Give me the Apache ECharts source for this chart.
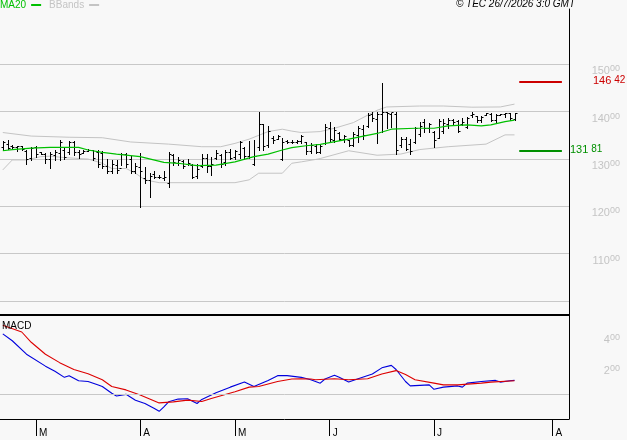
<!DOCTYPE html>
<html>
<head>
<meta charset="utf-8">
<script src="https://cdn.jsdelivr.net/npm/echarts@6/dist/echarts.min.js"></script>
<style>
  html, body { margin: 0; padding: 0; background: #f8f8f8; }
  #chart { width: 627px; height: 440px; }
</style>
</head>
<body>
<div id="chart"></div>
<script>
// daily bars, index 0 = 19 Feb 2026, last = 24 Jul 2026
var opens  = [132.5,133.2,132.8,132.6,132.7,131.8,130.2,132.5,131.4,131.0,130.0,130.8,131.2,132.0,131.5,133.5,131.5,131.3,131.8,131.9,
              131.5,131.2,128.6,127.5,128.8,128.0,131.0,130.0,127.5,128.3,126.0,125.5,126.8,126.2,126.0,125.0,130.8,129.2,129.6,129.0,
              128.7,126.4,128.6,130.2,128.5,130.2,130.8,129.3,131.5,130.5,131.0,132.3,130.6,128.9,132.5,137.3,133.0,134.5,134.3,130.0,
              133.8,133.7,133.6,133.8,133.5,131.6,132.8,131.5,133.3,136.5,134.0,135.5,134.2,134.0,133.0,135.0,136.3,137.0,139.5,138.5,
              139.5,140.0,139.6,139.5,133.0,134.3,133.2,133.5,135.2,137.8,136.5,135.7,134.5,136.0,137.5,138.2,138.0,137.5,136.8,139.3,
              139.0,138.2,139.4,139.6,138.2,139.3,139.6,139.7,138.4];
var highs  = [133.9,134.0,133.0,132.8,132.8,132.0,132.6,132.7,131.5,131.3,131.5,131.9,134.0,132.6,133.9,133.9,132.0,132.0,132.2,132.0,
              131.9,131.8,129.9,129.8,129.8,131.3,131.3,130.6,129.1,131.3,128.4,127.0,127.5,126.6,127.5,131.4,131.0,130.5,129.8,129.9,
              128.9,128.9,131.0,131.0,130.5,131.9,131.0,132.0,132.2,132.0,133.8,132.6,133.8,134.0,139.9,137.5,137.0,134.9,135.1,134.4,
              134.0,134.0,134.0,135.0,133.6,133.4,133.2,133.1,137.5,137.9,136.8,135.8,135.1,134.0,135.8,137.0,137.2,139.8,140.0,140.0,
              146.1,140.0,139.8,140.0,134.6,134.6,134.2,136.8,137.9,138.4,137.7,135.9,138.4,138.4,138.6,138.4,138.2,138.6,138.8,139.9,
              139.1,139.1,139.8,139.8,139.5,139.6,139.8,139.8,139.8];
var lows   = [131.9,132.1,132.3,131.6,132.0,128.9,129.8,130.5,131.0,129.1,128.0,129.8,129.8,130.0,131.1,130.9,130.3,131.2,131.6,129.8,
              128.4,128.2,127.0,127.0,127.0,128.7,128.4,127.0,127.0,119.9,124.9,121.9,126.0,126.0,125.6,124.0,128.7,128.7,128.2,128.7,
              125.9,125.9,128.4,127.3,126.6,129.9,128.4,128.7,129.9,129.9,130.2,130.0,130.2,128.7,131.9,131.9,132.6,133.3,134.2,129.8,
              133.4,133.4,133.4,133.4,131.1,131.3,131.2,131.3,133.2,133.6,133.6,134.0,133.7,132.8,132.7,133.6,134.2,136.8,138.1,133.4,
              135.8,136.5,136.7,131.1,132.6,131.9,131.1,133.4,134.8,135.8,135.8,132.5,134.4,135.4,136.5,137.4,135.8,137.2,136.5,138.9,
              137.9,137.9,139.3,138.1,137.9,139.3,138.9,138.2,138.2];
var closes = [133.5,132.4,132.5,132.7,132.1,130.0,132.3,131.0,131.1,130.0,131.0,131.5,133.5,130.4,133.6,131.5,131.0,131.8,132.0,130.2,
              129.0,128.6,127.5,128.9,127.6,131.0,129.0,127.5,128.5,127.5,125.6,126.5,126.3,126.1,126.2,131.0,129.4,129.8,128.6,129.1,
              126.3,127.8,130.3,128.6,129.0,131.3,129.0,131.5,130.3,131.8,133.5,130.6,130.5,130.6,137.5,132.8,136.0,134.0,134.9,133.7,
              133.6,133.5,133.8,134.8,131.6,133.0,131.5,132.7,136.8,134.2,136.2,134.3,134.8,133.0,135.3,136.5,135.0,139.2,138.6,139.5,
              140.0,139.8,139.9,132.0,134.3,132.2,131.8,136.5,137.0,136.5,137.3,134.0,138.0,137.6,138.2,137.8,136.0,137.9,138.6,139.5,
              138.3,138.9,139.7,138.3,139.4,139.5,139.7,138.6,139.8];

// MA20 and Bollinger bands at these bar positions
var maIdx  = [0, 2, 6, 10, 16, 18, 21, 24, 29, 34, 37, 41, 45, 49, 53, 56, 59, 61, 64, 67, 73, 79, 82, 87, 91, 94, 98, 101, 103, 106, 108];
var maVal  = [131.75,132.0,132.3,132.45,132.45,131.9,131.4,131.05,130.5,129.3,129.1,128.6,128.7,129.4,130.5,131.05,131.9,132.4,132.8,133.1,
              134.2,135.4,136.3,136.5,136.5,137.0,137.2,137.0,137.2,137.9,138.2];
var upIdx  = [0, 6, 14, 21, 27, 35, 42, 46, 49, 52, 56, 59, 61, 63, 67, 70, 74, 79, 81, 88, 93, 99, 105, 108];
var upVal  = [135.6,134.85,134.6,134.5,133.6,133.15,132.6,132.6,133.3,134.2,135.8,136.3,135.9,135.6,135.8,136.5,137.7,140.3,141.0,141.2,
              141.2,140.95,141.0,141.6];
var loIdx  = [0, 2, 5, 8, 10, 13, 18, 21, 23, 26, 28, 30, 33, 49, 52, 54, 59, 61, 63, 66, 67, 73, 79, 84, 88, 94, 102, 106, 108];
var loVal  = [127.7,129.8,129.8,130.5,130.6,130.3,130.0,129.1,128.0,128.0,127.0,125.6,125.0,125.0,125.6,127.0,127.0,129.1,129.4,129.9,
              130.1,131.75,130.8,131.05,132.0,132.6,133.15,135.1,135.1];

// MACD (blue) and signal (red)
var macdIdx = [0, 2, 5, 9, 11, 13, 14, 16, 18, 20, 21, 23, 24, 26, 28, 30, 32, 33, 34, 35, 37, 39, 41, 42, 45, 48, 51, 53, 56, 58,
               60, 63, 65, 67, 68, 70, 71, 73, 75, 78, 80, 82, 83, 85, 86, 90, 91, 93, 96, 97, 98, 101, 104, 105, 107, 108];
var macdVal = [3.95,3.5,2.62,1.84,1.51,1.11,1.22,0.89,0.84,0.62,0.51,0.07,-0.11,0.0,-0.38,-0.6,-0.93,-1.11,-0.82,-0.49,-0.31,-0.29,-0.6,-0.33,
               0.11,0.47,0.8,0.51,0.91,1.22,1.22,1.11,0.95,0.73,1.0,1.24,1.11,0.8,1.02,1.33,1.73,1.89,1.62,0.84,0.55,0.62,0.33,0.47,
               0.55,0.47,0.73,0.84,0.91,0.8,0.89,0.91];
var sigIdx  = [0, 4, 6, 9, 12, 15, 18, 21, 23, 26, 29, 33, 36, 39, 42, 44, 49, 52, 54, 58, 61, 63, 65, 66, 70, 73, 77, 80, 83, 85,
               87, 91, 93, 96, 101, 103, 108];
var sigVal  = [4.51,4.07,3.4,2.62,2.07,1.62,1.35,0.95,0.51,0.29,-0.04,-0.56,-0.49,-0.38,-0.47,-0.27,0.17,0.47,0.51,0.84,1.0,1.02,1.0,0.95,
               1.02,0.95,1.02,1.33,1.55,1.29,0.95,0.73,0.62,0.62,0.73,0.8,0.89];

// support / resistance levels
var resistance = 146.42;
var support = 131.81;
var levelFrom = 109, levelTo = 118;

// axis ticks
var priceGrid = [100, 110, 120, 130, 140, 150];
var priceLabels = [110, 120, 130, 140, 150];
var macdLabels = [2, 4];
var monthTickIdx = [7, 29, 49, 69, 91, 116];
var monthLabels = ['M', 'A', 'M', 'J', 'J', 'A'];

var FONT = '"Liberation Sans", Arial, sans-serif';

function pairs(xs, ys) {
    return xs.map(function (x, i) { return [x, ys[i]]; });
}

function priceText(v) {
    var s = v.toFixed(2).split('.');
    return '{i|' + s[0] + '}{d|' + s[1] + '}';
}

function levelRich(color) {
    return {
        i: { fontSize: 11, color: color, fontFamily: FONT },
        d: { fontSize: 10, color: color, fontFamily: FONT, padding: [0, 0, 2, 3] }
    };
}

var ohlc = opens.map(function (o, i) {
    return [i, o, highs[i], lows[i], closes[i]];
});

var chart = echarts.init(document.getElementById('chart'));

var gridRich = {
    i: { fontSize: 11, color: '#c4c4c4', fontFamily: FONT },
    d: { fontSize: 9, color: '#c4c4c4', fontFamily: FONT, padding: [0, 0, 5, 0] }
};

var option = {
    backgroundColor: '#f8f8f8',
    animation: false,
    title: [{
        text: '\u00a9 TEC 26/7/2026 3:0 GMT',
        right: 52, top: -1, padding: 0,
        textStyle: { fontSize: 10, fontStyle: 'italic', fontWeight: 'normal', color: '#000', fontFamily: FONT }
    }, {
        text: 'MACD',
        left: 2, top: 321, padding: 0,
        textStyle: { fontSize: 10, fontWeight: 'normal', color: '#000', fontFamily: FONT }
    }],
    legend: {
        left: 0, top: 0, padding: 0,
        align: 'right', itemGap: 8,
        itemWidth: 10, itemHeight: 2,
        icon: 'rect',
        selectedMode: false,
        textStyle: { fontSize: 10, fontFamily: FONT, padding: [0, 0, 0, -4] },
        data: [
            { name: 'MA20', textStyle: { color: '#00c000' } },
            { name: 'BBands', textStyle: { color: '#c4c4c4' } }
        ]
    },
    grid: [
        { left: 0, right: 58, top: 9, height: 306 },
        { left: 0, right: 58, top: 315, height: 104 }
    ],
    xAxis: [{
        type: 'value', gridIndex: 0, min: -0.59, max: 119.5,
        axisLine: { show: true, onZero: false, lineStyle: { color: '#000', width: 2 } },
        axisTick: { show: false }, axisLabel: { show: false }, splitLine: { show: false }
    }, {
        type: 'value', gridIndex: 1, min: -0.59, max: 119.5,
        axisLine: { show: true, onZero: false, lineStyle: { color: '#000', width: 1 } },
        axisTick: { show: true, length: 17, customValues: monthTickIdx, lineStyle: { color: '#000' } },
        axisLabel: {
            show: true, customValues: monthTickIdx, margin: 9, align: 'left',
            padding: [0, 0, 0, 3], fontSize: 10, color: '#000', fontFamily: FONT,
            formatter: function (v) { return monthLabels[monthTickIdx.indexOf(v)]; }
        },
        splitLine: { show: false }
    }],
    yAxis: [{
        type: 'value', gridIndex: 0, position: 'right', min: 97.04, max: 161.7,
        axisLine: { show: true, onZero: false, lineStyle: { color: '#000', width: 1 } },
        axisTick: { show: false, customValues: priceGrid },
        axisLabel: {
            customValues: priceLabels, margin: 51, align: 'right', verticalAlign: 'top',
            formatter: priceText, rich: gridRich
        },
        splitLine: { show: true, lineStyle: { color: '#c8c8c8', width: 1 } }
    }, {
        type: 'value', gridIndex: 1, position: 'right', min: -1.61, max: 5.18,
        axisLine: { show: true, onZero: false, lineStyle: { color: '#000', width: 1 } },
        axisTick: { show: false },
        axisLabel: {
            customValues: macdLabels, margin: 51, align: 'right', verticalAlign: 'top',
            formatter: priceText, rich: gridRich
        },
        splitLine: { show: false }
    }],
    series: [{
        name: 'BBands', type: 'line', xAxisIndex: 0, yAxisIndex: 0,
        data: pairs(upIdx, upVal), showSymbol: false, symbol: 'none', z: 2,
        lineStyle: { color: '#c4c4c4', width: 1 }, itemStyle: { color: '#c4c4c4' }
    }, {
        name: 'BBands', type: 'line', xAxisIndex: 0, yAxisIndex: 0,
        data: pairs(loIdx, loVal), showSymbol: false, symbol: 'none', z: 2,
        lineStyle: { color: '#c4c4c4', width: 1 }, itemStyle: { color: '#c4c4c4' }
    }, {
        name: 'OHLC', type: 'custom', xAxisIndex: 0, yAxisIndex: 0, z: 3,
        data: ohlc,
        renderItem: function (params, api) {
            var x = api.value(0);
            var o = api.coord([x, api.value(1)]);
            var h = api.coord([x, api.value(2)]);
            var l = api.coord([x, api.value(3)]);
            var c = api.coord([x, api.value(4)]);
            var px = Math.round(h[0]) + 0.5;
            var st = { stroke: '#000', lineWidth: 1 };
            return {
                type: 'group',
                children: [
                    { type: 'line', shape: { x1: px, y1: Math.round(h[1]), x2: px, y2: Math.round(l[1]) + 1 }, style: st },
                    { type: 'line', shape: { x1: px - 2, y1: Math.round(o[1]) + 0.5, x2: px, y2: Math.round(o[1]) + 0.5 }, style: st },
                    { type: 'line', shape: { x1: px, y1: Math.round(c[1]) + 0.5, x2: px + 2, y2: Math.round(c[1]) + 0.5 }, style: st }
                ]
            };
        },
        markLine: {
            silent: true, symbol: 'none',
            data: [
                [{ coord: [levelFrom, resistance], lineStyle: { color: '#cc0000', width: 2, type: 'solid' },
                   label: { show: true, position: 'end', distance: 31, formatter: priceText(resistance), rich: levelRich('#cc0000') } },
                 { coord: [levelTo, resistance] }],
                [{ coord: [levelFrom, support], lineStyle: { color: '#009000', width: 2, type: 'solid' },
                   label: { show: true, position: 'end', distance: 8, formatter: priceText(support), rich: levelRich('#009000') } },
                 { coord: [levelTo, support] }]
            ]
        }
    }, {
        name: 'MA20', type: 'line', xAxisIndex: 0, yAxisIndex: 0,
        data: pairs(maIdx, maVal), showSymbol: false, symbol: 'none', z: 4,
        lineStyle: { color: '#00c000', width: 1.2 }, itemStyle: { color: '#00c000' }
    }, {
        name: 'MACD', type: 'line', xAxisIndex: 1, yAxisIndex: 1,
        data: pairs(macdIdx, macdVal), showSymbol: false, symbol: 'none', z: 3,
        lineStyle: { color: '#0000dd', width: 1.1 },
        markLine: {
            silent: true, symbol: 'none', label: { show: false },
            lineStyle: { color: '#c8c8c8', width: 1, type: 'solid' },
            data: [{ yAxis: 0 }]
        }
    }, {
        name: 'Signal', type: 'line', xAxisIndex: 1, yAxisIndex: 1,
        data: pairs(sigIdx, sigVal), showSymbol: false, symbol: 'none', z: 4,
        lineStyle: { color: '#dd0000', width: 1.1 }
    }]
};

chart.setOption(option);
</script>
</body>
</html>
